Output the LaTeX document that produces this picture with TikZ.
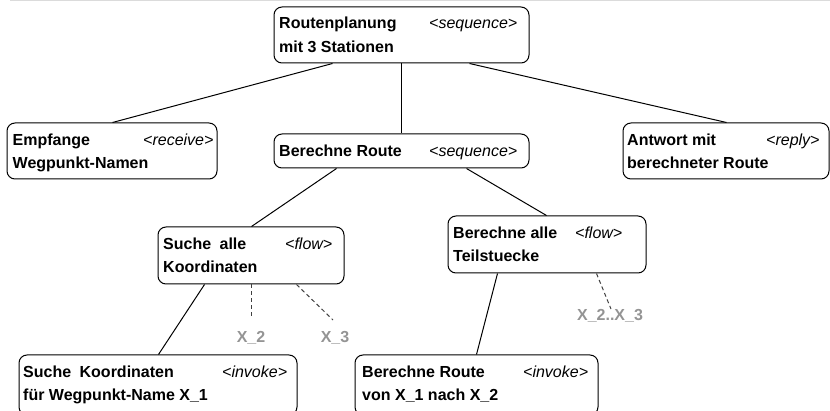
\documentclass[tikz,border=0pt]{standalone}
\usepackage{fontspec}
\setmainfont{Liberation Sans}
\usetikzlibrary{calc}
\tikzset{
  box/.style={draw=black, line width=1pt, rounded corners=8pt, inner sep=0pt},
  bt/.style={anchor=base west, inner sep=0pt, font=\fontsize{16}{22}\selectfont\bfseries},
  it/.style={anchor=base west, inner sep=0pt, font=\fontsize{16}{22}\selectfont\itshape},
  xl/.style={inner sep=0pt, text=black!42, font=\fontsize{16}{22}\selectfont\bfseries},
  conn/.style={draw=black, line width=1pt},
  dconn/.style={draw=black!75, line width=1pt, dash pattern=on 4pt off 3pt}
}
\begin{document}
\begin{tikzpicture}[x=1pt, y=-1pt]
\useasboundingbox (0,0) rectangle (830,411);
\draw[black!14, line width=1.5pt] (10,0.75) -- (830,0.75);

% boxes
\node[box, minimum width=255pt, minimum height=56pt] (top) at (401.5,35) {};
\node[box, minimum width=210pt, minimum height=56pt] (emp) at (112,151) {};
\node[box, minimum width=255pt, minimum height=34pt] (ber) at (401.5,151) {};
\node[box, minimum width=206pt, minimum height=56pt] (ant) at (726,151) {};
\node[box, minimum width=186pt, minimum height=57pt] (such) at (251,255.5) {};
\node[box, minimum width=198pt, minimum height=57pt] (bera) at (547,244.5) {};
\node[box, minimum width=278pt, minimum height=60pt] (sk) at (158,385) {};
\node[box, minimum width=243pt, minimum height=60pt] (br) at (476.5,385) {};

% texts
\node[bt] (t1a) at (279,29) {Routenplanung};
\node[bt] (t1b) at (279,52.5) {mit 3 Stationen};
\node[it] (t1c) at (429,29) {<sequence>};

\node[bt] (t2a) at (12.5,145.5) {Empfange};
\node[bt] (t2b) at (12.5,168.5) {Wegpunkt-Namen};
\node[it] (t2c) at (143,145.5) {<receive>};

\node[bt] (t3a) at (279,156.5) {Berechne Route};
\node[it] (t3c) at (429,156.5) {<sequence>};

\node[bt] (t4a) at (627,145.5) {Antwort mit};
\node[bt] (t4b) at (627,168.5) {berechneter Route};
\node[it] (t4c) at (766,145.5) {<reply>};

\node[bt] (t5a) at (163,250) {Suche\hspace{4pt} alle};
\node[bt] (t5b) at (163,273) {Koordinaten};
\node[it] (t5c) at (285,250) {<flow>};

\node[bt] (t6a) at (453,239) {Berechne alle};
\node[bt] (t6b) at (453,262) {Teilstuecke};
\node[it] (t6c) at (575,239) {<flow>};

\node[bt] (t7a) at (23,378) {Suche\hspace{4pt} Koordinaten};
\node[bt] (t7b) at (23,401) {für Wegpunkt-Name X\_1};
\node[it] (t7c) at (222,378) {<invoke>};

\node[bt] (t8a) at (362,378) {Berechne Route};
\node[bt] (t8b) at (362,401) {von X\_1 nach X\_2};
\node[it] (t8c) at (523,378) {<invoke>};

% x labels
\node[xl, anchor=base] (x2) at (251,343) {X\_2};
\node[xl, anchor=base] (x3) at (335,343) {X\_3};
\node[xl, anchor=base] (x23) at (610,321) {X\_2..X\_3};
\coordinate (e2) at (251,318);
\coordinate (e3) at (333,320);
\coordinate (e23) at (611,309);

% connectors
\draw[conn] ($(top.south west)+(59,0)$) -- ($(emp.north west)+(106,0)$);
\draw[conn] (top.south) -- (ber.north);
\draw[conn] ($(top.south west)+(196,0)$) -- ($(ant.north west)+(104,0)$);
\draw[conn] ($(ber.south west)+(63,0)$) -- ($(such.north west)+(94,0)$);
\draw[conn] ($(ber.south west)+(193,0)$) -- ($(bera.north west)+(99,0)$);
\draw[conn] ($(such.south west)+(47,0)$) -- ($(sk.north west)+(140,0)$);
\draw[conn] ($(bera.south west)+(50,0)$) -- ($(br.north west)+(122,0)$);
\draw[dconn] (such.south) -- (e2);
\draw[dconn] ($(such.south west)+(139,0)$) -- (e3);
\draw[dconn] ($(bera.south west)+(149,0)$) -- (e23);
\end{tikzpicture}
\end{document}
